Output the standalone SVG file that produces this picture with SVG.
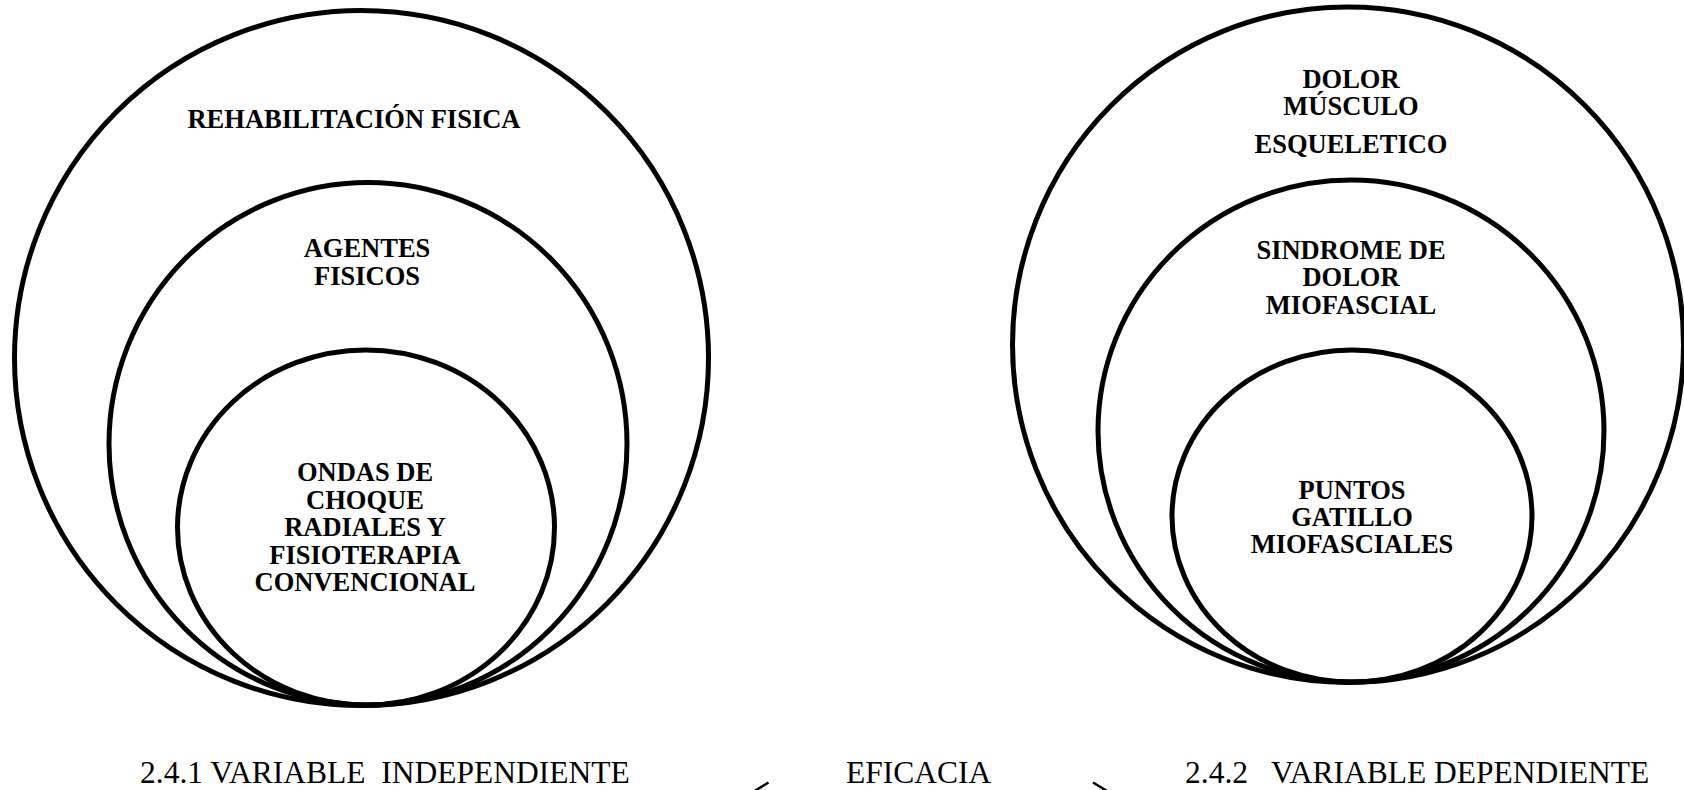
<svg xmlns="http://www.w3.org/2000/svg" width="1684" height="790" viewBox="0 0 1684 790">
<style>
.ring{fill:none;stroke:#000;stroke-width:5}
.lbl{font-family:"Liberation Serif","Times New Roman",serif;font-weight:bold;font-size:26.5px;fill:#000;text-anchor:middle}
.cap{font-family:"Liberation Serif","Times New Roman",serif;font-size:31.5px;fill:#000}
.arr{fill:none;stroke:#000;stroke-width:2.5}
</style>
<rect width="1684" height="790" fill="#fff"/>
<g id="rehabilitacion">
<ellipse class="ring" cx="361.5" cy="358" rx="347" ry="347.5"/>
<text class="lbl" x="354" y="128">REHABILITACIÓN FISICA</text>
</g>
<g id="agentes">
<ellipse class="ring" cx="368" cy="443.75" rx="259" ry="261.25"/>
<text class="lbl" x="367" y="257">AGENTES</text>
<text class="lbl" x="367" y="285">FISICOS</text>
</g>
<g id="ondas">
<ellipse class="ring" cx="366" cy="527.5" rx="188.5" ry="177.5"/>
<text class="lbl" x="365" y="481">ONDAS DE</text>
<text class="lbl" x="365" y="508.5">CHOQUE</text>
<text class="lbl" x="365" y="536">RADIALES Y</text>
<text class="lbl" x="365" y="563.5">FISIOTERAPIA</text>
<text class="lbl" x="365" y="591">CONVENCIONAL</text>
</g>
<g id="dolor">
<ellipse class="ring" cx="1348" cy="344.7" rx="335.5" ry="337.8"/>
<text class="lbl" x="1351" y="88">DOLOR</text>
<text class="lbl" x="1351" y="115">MÚSCULO</text>
<text class="lbl" x="1351" y="153">ESQUELETICO</text>
</g>
<g id="sindrome">
<ellipse class="ring" cx="1351" cy="431" rx="253" ry="251"/>
<text class="lbl" x="1351" y="259">SINDROME DE</text>
<text class="lbl" x="1351" y="286">DOLOR</text>
<text class="lbl" x="1351" y="314">MIOFASCIAL</text>
</g>
<g id="puntos">
<ellipse class="ring" cx="1352" cy="516" rx="180" ry="166"/>
<text class="lbl" x="1352" y="499">PUNTOS</text>
<text class="lbl" x="1352" y="526">GATILLO</text>
<text class="lbl" x="1352" y="553">MIOFASCIALES</text>
</g>
<g id="var-independiente">
<text class="cap" x="140" y="783" font-size="33.2" xml:space="preserve">2.4.1 VARIABLE  INDEPENDIENTE</text>
</g>
<g id="eficacia">
<text class="cap" x="846" y="783">EFICACIA</text>
</g>
<g id="var-dependiente">
<text class="cap" x="1185" y="783" font-size="30.8" xml:space="preserve">2.4.2   VARIABLE DEPENDIENTE</text>
</g>
<g id="connectors">
<polyline class="arr" points="768.5,782.5 745,797 768.5,811"/>
<polyline class="arr" points="1093,782.5 1117,797 1093,811"/>
</g>
</svg>
